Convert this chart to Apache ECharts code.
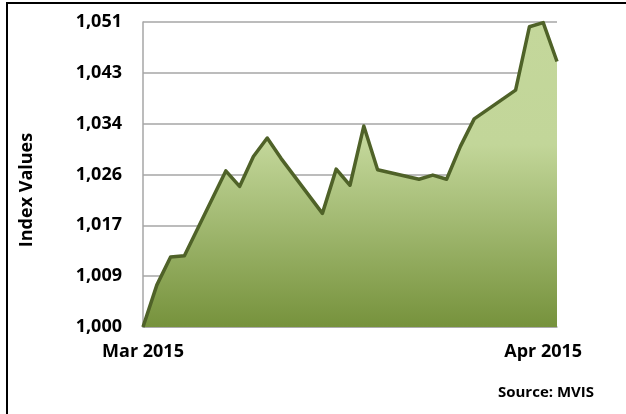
<!DOCTYPE html>
<html>
<head>
<meta charset="utf-8">
<title>Index Values</title>
<script src="https://cdn.jsdelivr.net/npm/echarts@6/dist/echarts.min.js"></script>
<style>
    html, body { margin: 0; padding: 0; background: #fff; }
    #chart { width: 626px; height: 414px; }
</style>
</head>
<body>
<div id="chart"></div>
<script>
// trading days (weekends are gaps on the date axis)
const tradeDates = [
    '2015-03-03', '2015-03-04', '2015-03-05', '2015-03-06',
    '2015-03-09', '2015-03-10', '2015-03-11', '2015-03-12', '2015-03-13',
    '2015-03-16', '2015-03-17', '2015-03-18', '2015-03-19', '2015-03-20',
    '2015-03-23', '2015-03-24', '2015-03-25', '2015-03-26', '2015-03-27',
    '2015-03-30', '2015-03-31', '2015-04-01', '2015-04-02'
]
const indexValues = [
    1000.0, 1007.0, 1011.7, 1011.9,
    1026.1, 1023.5, 1028.5, 1031.6, 1028.2,
    1019.0, 1026.4, 1023.7, 1033.6, 1026.3,
    1024.7, 1025.4, 1024.7, 1030.2, 1034.8,
    1039.6, 1050.2, 1050.9, 1044.4
]
const yMin = 1000
const yMax = 1051
const yStep = 8.5
const monthNames = ['Jan', 'Feb', 'Mar', 'Apr', 'May', 'Jun', 'Jul', 'Aug', 'Sep', 'Oct', 'Nov', 'Dec']

// every calendar day from first to last trade date, null on non-trading days
function toUtc (s) {
    let p = s.split('-')
    return Date.UTC(+p[0], +p[1] - 1, +p[2])
}
let days = []
let seriesData = []
let byDate = {}
tradeDates.forEach((d, i) => { byDate[d] = indexValues[i] })
for (let t = toUtc(tradeDates[0]); t <= toUtc(tradeDates[tradeDates.length - 1]); t += 86400000) {
    let key = new Date(t).toISOString().slice(0, 10)
    days.push(key)
    seriesData.push(byDate[key] !== undefined ? byDate[key] : null)
}

// label on the first day and on the 1st of each month
function showLabel (index) {
    return index === 0 || days[index].slice(8) === '01'
}

const boldFont = '"Open Sans", "DejaVu Sans", sans-serif'

let myChart = echarts.init(document.getElementById('chart'))
myChart.setOption({
    animation: false,
    grid: {
        left: 143,
        right: 69,
        top: 22,
        bottom: 87,
    },
    graphic: [
        {
            // outer frame, only top and left edges are in view
            type: 'rect',
            shape: { x: 7, y: 3, width: 700, height: 500 },
            style: { fill: 'none', stroke: '#000', lineWidth: 2 },
        },
        {
            type: 'text',
            x: 27,
            y: 190,
            rotation: Math.PI / 2,
            style: {
                text: 'Index Values',
                font: 'bold 18px ' + boldFont,
                fill: '#000',
                align: 'center',
                verticalAlign: 'middle',
            },
        },
        {
            type: 'text',
            x: 546,
            y: 393,
            style: {
                text: 'Source: MVIS',
                font: 'bold 15px ' + boldFont,
                fill: '#000',
                align: 'center',
                verticalAlign: 'middle',
            },
        },
    ],
    xAxis: {
        type: 'category',
        boundaryGap: false,
        data: days,
        axisLine: { lineStyle: { color: '#a6a6a6', width: 1.5 } },
        axisTick: { show: false },
        axisLabel: {
            interval: showLabel,
            formatter: function (value) {
                return monthNames[+value.slice(5, 7) - 1] + ' ' + value.slice(0, 4)
            },
            color: '#000',
            fontWeight: 'bold',
            fontFamily: boldFont,
            fontSize: 18,
            margin: 16,
        },
        splitLine: { show: false },
    },
    yAxis: {
        type: 'value',
        min: yMin,
        max: yMax,
        interval: yStep,
        axisLine: { show: true, lineStyle: { color: '#a6a6a6', width: 1.5 } },
        axisTick: { show: false },
        axisLabel: {
            formatter: function (v) {
                return Math.round(v).toLocaleString('en-US')
            },
            color: '#000',
            fontWeight: 'bold',
            fontFamily: boldFont,
            fontSize: 18,
            margin: 21,
        },
        splitLine: { lineStyle: { color: '#a6a6a6', width: 1.5 } },
    },
    series: [{
        type: 'line',
        data: seriesData,
        connectNulls: true,
        symbol: 'none',
        lineStyle: { color: '#4f6228', width: 3.5, join: 'round' },
        areaStyle: {
            opacity: 1,
            color: new echarts.graphic.LinearGradient(0, 0, 0, 1, [
                { offset: 0, color: '#c4d79b' },
                { offset: 0.4, color: '#c2d699' },
                { offset: 1, color: '#76923c' },
            ]),
        },
    }],
})
window.addEventListener('resize', function () {
    myChart.resize()
})
</script>
</body>
</html>
